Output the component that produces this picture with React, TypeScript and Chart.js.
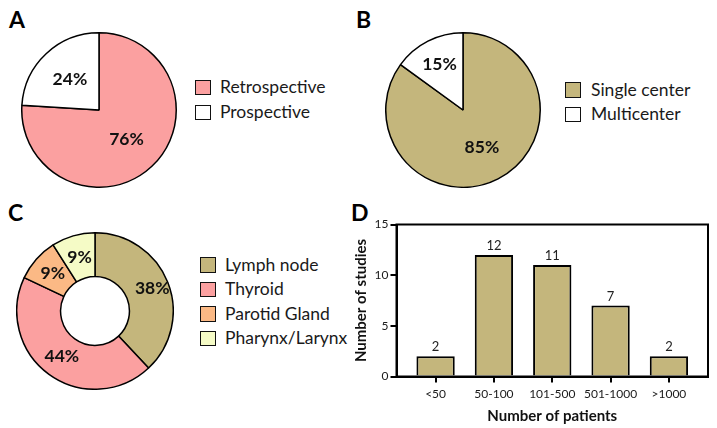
import React, { useEffect, useRef } from "react";
import { Chart, registerables } from "chart.js";

Chart.register(...registerables);

const FONT = "Lato, 'Open Sans', sans-serif";

// ---- data ----
const designLabels = ["Retrospective", "Prospective"];
const designValues = [76, 24];

const centerLabels = ["Single center", "Multicenter"];
const centerValues = [85, 15];

const siteLabels = ["Lymph node", "Thyroid", "Parotid Gland", "Pharynx/Larynx"];
const siteValues = [38, 44, 9, 9];

const sizeLabels = ["<50", "50-100", "101-500", "501-1000", ">1000"];
const sizeValues = [2, 12, 11, 7, 2];
const yMin = 0;
const yMax = 15;
const yStep = 5;

// ---- colours ----
const PINK = "#FBA0A0";
const OLIVE = "#C4B67C";
const ORANGE = "#FBB985";
const YELLOW = "#F5FBC6";
const WHITE = "#FFFFFF";

const designColors = [PINK, WHITE];
const centerColors = [OLIVE, WHITE];
const siteColors = [OLIVE, PINK, ORANGE, YELLOW];

const sliceLabels = {
  id: "sliceLabels",
  afterDatasetsDraw(chart: any, _args: any, opts: any) {
    const ctx = chart.ctx;
    const meta = chart.getDatasetMeta(0);
    const data = chart.data.datasets[0].data;
    ctx.save();
    ctx.font = opts.font;
    ctx.fillStyle = opts.color;
    ctx.textAlign = "center";
    ctx.textBaseline = "middle";
    meta.data.forEach((arc: any, i: number) => {
      const p = arc.getProps(["x", "y", "startAngle", "endAngle", "innerRadius", "outerRadius"], true);
      const mid = (p.startAngle + p.endAngle) / 2;
      const f = (opts.radial && opts.radial[i]) ?? 0.5;
      const r = p.innerRadius + (p.outerRadius - p.innerRadius) * f;
      ctx.fillText(data[i] + "%", p.x + Math.cos(mid) * r, p.y + Math.sin(mid) * r);
    });
    ctx.restore();
  },
};

const barValues = {
  id: "barValues",
  afterDatasetsDraw(chart: any, _args: any, opts: any) {
    const ctx = chart.ctx;
    const meta = chart.getDatasetMeta(0);
    ctx.save();
    ctx.font = opts.font;
    ctx.fillStyle = opts.color;
    ctx.textAlign = "center";
    ctx.textBaseline = "alphabetic";
    meta.data.forEach((bar: any, i: number) => {
      ctx.fillText(String(sizeValues[i]), bar.x, bar.y - opts.offset);
    });
    ctx.restore();
  },
};

const frame = {
  id: "frame",
  afterDraw(chart: any) {
    const { ctx, chartArea } = chart;
    ctx.save();
    ctx.strokeStyle = "#000";
    ctx.lineWidth = 2;
    ctx.strokeRect(chartArea.left, chartArea.top, chartArea.right - chartArea.left, chartArea.bottom - chartArea.top);
    ctx.restore();
  },
};

function pieConfig(labels: string[], values: number[], colors: string[], cutout: string, radial: number[]) {
  return {
    type: cutout === "0%" ? "pie" : "doughnut",
    data: {
      labels,
      datasets: [
        {
          data: values,
          backgroundColor: colors,
          borderColor: "#000",
          borderWidth: 1.5,
        },
      ],
    },
    options: {
      animation: false,
      responsive: true,
      maintainAspectRatio: false,
      cutout,
      layout: { padding: 0 },
      plugins: {
        legend: { display: false },
        tooltip: { enabled: false },
        sliceLabels: { font: `bold 17.5px ${FONT}`, color: "#111", radial },
      },
    },
    plugins: [sliceLabels],
  };
}

function barConfig() {
  const tickFont = { family: FONT, size: 12 };
  return {
    type: "bar",
    data: {
      datasets: [
        {
          data: sizeValues.map((v, i) => ({ x: i, y: v })),
          backgroundColor: OLIVE,
          borderColor: "#000",
          borderWidth: 2,
          categoryPercentage: 1,
          barPercentage: 0.657,
        },
      ],
    },
    options: {
      animation: false,
      responsive: true,
      maintainAspectRatio: false,
      layout: { padding: { top: 29.5, right: 9, left: 0, bottom: 0 } },
      plugins: {
        legend: { display: false },
        tooltip: { enabled: false },
        barValues: { font: `13px ${FONT}`, color: "#222", offset: 5 },
      },
      scales: {
        x: {
          type: "linear",
          offset: false,
          min: -0.67,
          max: sizeLabels.length - 1 + 0.67,
          afterBuildTicks: (s: any) => {
            s.ticks = sizeLabels.map((_, i) => ({ value: i }));
          },
          grid: { display: true, offset: false, drawOnChartArea: false, tickLength: 6, color: "#000", lineWidth: 2 },
          border: { display: true, color: "#000", width: 2 },
          ticks: {
            font: tickFont,
            color: "#1a1a1a",
            padding: 4,
            maxRotation: 0,
            autoSkip: false,
            callback: (v: any) => sizeLabels[Math.round(v)] ?? "",
          },
          title: {
            display: true,
            text: "Number of patients",
            font: { family: FONT, size: 15, weight: "bold" },
            color: "#111",
            padding: 3,
          },
          afterFit: (s: any) => {
            s.height = 51.5;
          },
        },
        y: {
          min: yMin,
          max: yMax,
          ticks: { stepSize: yStep, font: tickFont, color: "#1a1a1a", padding: 2 },
          grid: { display: true, drawOnChartArea: false, tickLength: 6, color: "#000", lineWidth: 2 },
          border: { display: true, color: "#000", width: 2 },
          title: {
            display: true,
            text: "Number of studies",
            font: { family: FONT, size: 15, weight: "bold" },
            color: "#111",
            padding: 2,
          },
          afterFit: (s: any) => {
            s.width = 46.5;
          },
        },
      },
    },
    plugins: [barValues, frame],
  };
}

function ChartBox({ config, style }: { config: any; style: React.CSSProperties }) {
  const ref = useRef<HTMLCanvasElement | null>(null);
  useEffect(() => {
    const c = new Chart(ref.current as HTMLCanvasElement, config);
    return () => c.destroy();
  }, []);
  return (
    <div style={{ position: "absolute", ...style }}>
      <canvas ref={ref} />
    </div>
  );
}

function Legend({
  labels,
  colors,
  boxLeft,
  textLeft,
  top,
  gap,
}: {
  labels: string[];
  colors: string[];
  boxLeft: number;
  textLeft: number;
  top: number;
  gap: number;
}) {
  const box = 15.5;
  return (
    <>
      {labels.map((l, i) => (
        <React.Fragment key={l}>
          <div
            style={{
              position: "absolute",
              left: boxLeft,
              top: top + i * gap,
              width: box,
              height: box,
              boxSizing: "border-box",
              border: "1.6px solid #111",
              background: colors[i],
            }}
          />
          <div
            style={{
              position: "absolute",
              left: textLeft,
              top: top + i * gap - 2.5,
              height: 20,
              lineHeight: "20px",
              fontSize: 17.5,
              fontFamily: FONT,
              color: "#1a1a1a",
              whiteSpace: "nowrap",
            }}
          >
            {l}
          </div>
        </React.Fragment>
      ))}
    </>
  );
}

function PanelLetter({ text, left, top }: { text: string; left: number; top: number }) {
  return (
    <div
      style={{
        position: "absolute",
        left,
        top,
        fontFamily: FONT,
        fontWeight: "bold",
        fontSize: 23,
        lineHeight: "23px",
        color: "#000",
      }}
    >
      {text}
    </div>
  );
}

export default function App() {
  return (
    <div
      style={{
        position: "fixed",
        left: 0,
        top: 0,
        width: 717,
        height: 428,
        background: "#fff",
        overflow: "hidden",
      }}
    >
      <PanelLetter text="A" left={9} top={8} />
      <PanelLetter text="B" left={356} top={8} />
      <PanelLetter text="C" left={8} top={201} />
      <PanelLetter text="D" left={351} top={201} />

      <ChartBox
        config={pieConfig(designLabels, designValues, designColors, "0%", [0.52, 0.55])}
        style={{ left: 20.5, top: 32, width: 156, height: 156 }}
      />
      <Legend labels={designLabels} colors={designColors} boxLeft={195} textLeft={220} top={79.5} gap={25} />

      <ChartBox
        config={pieConfig(centerLabels, centerValues, centerColors, "0%", [0.54, 0.67])}
        style={{ left: 384.5, top: 32, width: 156, height: 156 }}
      />
      <Legend labels={centerLabels} colors={centerColors} boxLeft={565} textLeft={591} top={82} gap={24.5} />

      <ChartBox
        config={pieConfig(siteLabels, siteValues, siteColors, "44%", [0.62, 0.5, 0.5, 0.48])}
        style={{ left: 16, top: 231.5, width: 158, height: 158 }}
      />
      <Legend labels={siteLabels} colors={siteColors} boxLeft={200} textLeft={225} top={257} gap={24.5} />

      <ChartBox config={barConfig()} style={{ left: 350, top: 195, width: 367, height: 233 }} />
    </div>
  );
}
